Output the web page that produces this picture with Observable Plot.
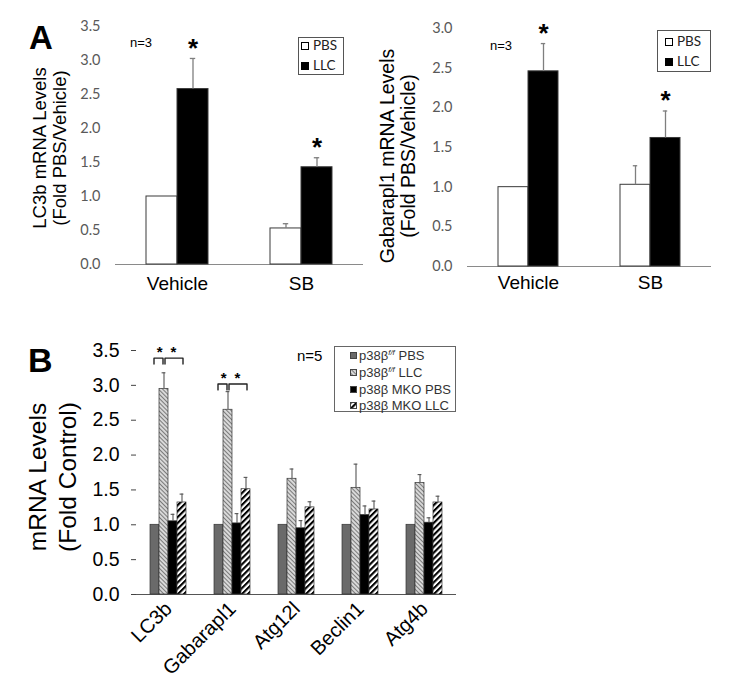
<!DOCTYPE html>
<html><head><meta charset="utf-8">
<script src="https://cdn.jsdelivr.net/npm/d3@7"></script>
<script src="https://cdn.jsdelivr.net/npm/@observablehq/plot@0.6"></script>
<style>
body{margin:0;background:#fff;}
#fig{position:relative;width:745px;height:685px;overflow:hidden;font-family:"Liberation Sans",Arial,sans-serif;color:#000;}
#fig svg{overflow:visible;}
.ytitle{position:absolute;transform:rotate(-90deg);text-align:center;white-space:nowrap;}
.box{position:absolute;box-sizing:border-box;background:#fff;}
.row{position:absolute;white-space:nowrap;line-height:1;}
.row svg{position:absolute;}
</style></head><body><div id="fig"></div>
<script>
// ---------- Panel A data ----------
const groupsA = ["Vehicle", "SB"];
const seriesA = ["PBS", "LLC"];
const yTicksA1 = [0, 0.5, 1.0, 1.5, 2.0, 2.5, 3.0, 3.5];
const yTicksA2 = [0, 0.5, 1.0, 1.5, 2.0, 2.5, 3.0];
// LC3b
const lc3bPBS = [1.00, 0.53];
const lc3bPBSerr = [0, 0.07];
const lc3bLLC = [2.58, 1.43];
const lc3bLLCerr = [0.45, 0.14];
const lc3bSig = [true, true];
// Gabarapl1
const gabPBS = [1.00, 1.03];
const gabPBSerr = [0, 0.24];
const gabLLC = [2.46, 1.62];
const gabLLCerr = [0.35, 0.34];
const gabSig = [true, true];

// ---------- Panel B data ----------
const genes = ["LC3b", "Gabarapl1", "Atg12l", "Beclin1", "Atg4b"];
const seriesB = ["p38βf/f PBS", "p38βf/f LLC", "p38β MKO PBS", "p38β MKO LLC"];
const yTicksB = [0, 0.5, 1.0, 1.5, 2.0, 2.5, 3.0, 3.5];
const ffPBS = [1.00, 1.00, 1.00, 1.00, 1.00];
const ffPBSerr = [0, 0, 0, 0, 0];
const ffLLC = [2.95, 2.65, 1.66, 1.53, 1.60];
const ffLLCerr = [0.23, 0.26, 0.14, 0.34, 0.12];
const mkoPBS = [1.05, 1.02, 0.95, 1.14, 1.03];
const mkoPBSerr = [0.10, 0.14, 0.11, 0.13, 0.07];
const mkoLLC = [1.32, 1.51, 1.25, 1.22, 1.32];
const mkoLLCerr = [0.12, 0.17, 0.08, 0.12, 0.09];
const bracketGenes = ["LC3b", "Gabarapl1"];
const bracketTop = [3.39, 3.02];
const bracketPairs = [[0, 1], [1, 3]];

// ---------- styles ----------
const fillsA = ["#ffffff", "#000000"];
const fillsB = ["#6a6a6a", "url(#hatchLight)", "#000000", "url(#hatchBW)"];

const fig = document.getElementById("fig");
function put(el, left, top) {
  el.style.position = "absolute"; el.style.left = left + "px"; el.style.top = top + "px";
  fig.appendChild(el); return el;
}
function html(s) { const d = document.createElement("div"); d.innerHTML = s; return d.firstElementChild; }

// ---------- Panel A builder ----------
function panelA(cfg) {
  const rows = [];
  groupsA.forEach((g, gi) => {
    rows.push({group: g, series: seriesA[0], value: cfg.pbs[gi], err: cfg.pbsErr[gi], sig: false});
    rows.push({group: g, series: seriesA[1], value: cfg.llc[gi], err: cfg.llcErr[gi], sig: cfg.sig[gi]});
  });
  const withErr = rows.filter(d => d.err > 0);
  return Plot.plot({
    width: cfg.width, height: cfg.height,
    marginLeft: cfg.ml, marginRight: cfg.mr, marginTop: cfg.mt, marginBottom: cfg.mb,
    style: {fontFamily: "Lato, sans-serif", background: "transparent"},
    fx: {domain: groupsA, padding: 0, label: null},
    x: {domain: seriesA, paddingInner: 0, paddingOuter: 1, axis: null},
    y: {domain: [0, cfg.yMax]},
    color: {domain: seriesA, range: fillsA},
    marks: [
      Plot.ruleY([0], {stroke: "#8a8a8a", strokeWidth: 1.2}),
      Plot.barY(rows, {fx: "group", x: "series", y: "value", fill: "series", stroke: "#3a3a3a", strokeWidth: 1}),
      Plot.ruleX(withErr, {fx: "group", x: "series", y1: "value", y2: d => d.value + d.err, stroke: "#7f7f7f", strokeWidth: 1.3}),
      Plot.tickY(withErr, {fx: "group", x: "series", y: d => d.value + d.err, stroke: "#7f7f7f", strokeWidth: 1.3, insetLeft: 12.8, insetRight: 12.8}),
      Plot.text(rows.filter(d => d.sig), {fx: "group", x: "series", y: d => d.value + d.err, text: () => "*", dy: -10, fontSize: 26, fontWeight: "bold", fontFamily: "Liberation Sans", fill: "#000"}),
      Plot.axisY(cfg.ticks, {tickSize: 0, tickPadding: 15, fontSize: 14.5, color: "#595959", stroke: "#8a8a8a", line: true, tickFormat: d3.format(".1f"), label: null}),
      Plot.axisFx({anchor: "bottom", tickSize: 0, tickPadding: cfg.xpad, fontSize: 19, fontFamily: "Liberation Sans", color: "#000", label: null})
    ]
  });
}

const chartA1 = panelA({pbs: lc3bPBS, pbsErr: lc3bPBSerr, llc: lc3bLLC, llcErr: lc3bLLCerr, sig: lc3bSig,
  yMax: 3.5, ticks: yTicksA1, width: 370, height: 300, ml: 115, mr: 7, mt: 26, mb: 36, xpad: 12});
put(chartA1, 0, 0);
const chartA2 = panelA({pbs: gabPBS, pbsErr: gabPBSerr, llc: gabLLC, llcErr: gabLLCerr, sig: gabSig,
  yMax: 3.0, ticks: yTicksA2, width: 375, height: 300, ml: 96, mr: 34, mt: 28, mb: 34, xpad: 9});
put(chartA2, 370, 0);

// ---------- Panel B ----------
const seriesVals = [[ffPBS, ffPBSerr], [ffLLC, ffLLCerr], [mkoPBS, mkoPBSerr], [mkoLLC, mkoLLCerr]];
const rowsB = [];
genes.forEach((g, gi) => seriesB.forEach((s, si) => {
  rowsB.push({gene: g, series: s, value: seriesVals[si][0][gi], err: seriesVals[si][1][gi]});
}));
const errB = rowsB.filter(d => d.err > 0);
const bW = 135, bR = 288, facetW = (745 - bW - bR) / genes.length, poB = 1.46;
const stepB = facetW / (seriesB.length + 2 * poB);
const leg = 0.085;
const bracketPts = [], starPts = [];
bracketGenes.forEach((g, k) => {
  bracketPairs.forEach(([a, b], p) => {
    const id = g + p, t = bracketTop[k];
    bracketPts.push({gene: g, id, side: p, series: seriesB[a], y: t - leg});
    bracketPts.push({gene: g, id, side: p, series: seriesB[a], y: t});
    bracketPts.push({gene: g, id, side: p, series: seriesB[b], y: t});
    bracketPts.push({gene: g, id, side: p, series: seriesB[b], y: t - leg});
    starPts.push({gene: g, series: seriesB[a], y: t, off: (b - a) / 2 * stepB});
  });
});

const chartB = Plot.plot({
  width: 745, height: 355, marginLeft: bW, marginRight: bR, marginTop: 20, marginBottom: 91,
  style: {fontFamily: "Liberation Sans, Arial, sans-serif", background: "transparent"},
  fx: {domain: genes, padding: 0, label: null},
  x: {domain: seriesB, paddingInner: 0, paddingOuter: poB, axis: null},
  y: {domain: [0, 3.5]},
  color: {domain: seriesB, range: fillsB},
  marks: [
    Plot.ruleY([0], {stroke: "#555", strokeWidth: 1.2}),
    Plot.barY(rowsB, {fx: "gene", x: "series", y: "value", fill: "series", stroke: "#333", strokeWidth: 0.7}),
    Plot.ruleX(errB, {fx: "gene", x: "series", y1: "value", y2: d => d.value + d.err, stroke: "#555", strokeWidth: 1.1}),
    Plot.tickY(errB, {fx: "gene", x: "series", y: d => d.value + d.err, stroke: "#555", strokeWidth: 1.1, insetLeft: 2.6, insetRight: 2.6}),
    Plot.line(bracketPts.filter(d => d.side === 0), {fx: "gene", x: "series", y: "y", z: "id", stroke: "#222", strokeWidth: 1.4, dx: -1}),
    Plot.line(bracketPts.filter(d => d.side === 1), {fx: "gene", x: "series", y: "y", z: "id", stroke: "#222", strokeWidth: 1.4, dx: 1}),
    ...starPts.map(s => Plot.text([s], {fx: "gene", x: "series", y: "y", text: () => "*", dx: s.off, dy: -6, fontSize: 15, fontWeight: "bold", fill: "#000"})),
    Plot.axisY(yTicksB, {tickSize: 5, tickPadding: 12, fontSize: 19.5, color: "#000", stroke: "#444", line: true, tickFormat: d3.format(".1f"), label: null}),
    Plot.axisFx({anchor: "bottom", tickRotate: -45, fontSize: 20, tickSize: 0, tickPadding: 11, color: "#000", label: null})
  ]
});
// hatch patterns
const defs = d3.select(chartB).insert("defs", ":first-child");
const p1 = defs.append("pattern").attr("id", "hatchLight").attr("patternUnits", "userSpaceOnUse")
  .attr("width", 3).attr("height", 3).attr("patternTransform", "rotate(-45)");
p1.append("rect").attr("width", 3).attr("height", 3).attr("fill", "#d8d8d8");
p1.append("rect").attr("width", 1).attr("height", 3).attr("fill", "#7a7a7a");
const p2 = defs.append("pattern").attr("id", "hatchBW").attr("patternUnits", "userSpaceOnUse")
  .attr("width", 4.2).attr("height", 4.2).attr("patternTransform", "rotate(45)");
p2.append("rect").attr("width", 4.2).attr("height", 4.2).attr("fill", "#fff");
p2.append("rect").attr("width", 2.1).attr("height", 4.2).attr("fill", "#000");
put(chartB, 0, 330);

// ---------- Text overlays ----------
function ytitle(lines, cx, cy, fs, lh) {
  const w = 320, h = lh * lines.length;
  const d = html(`<div class="ytitle" style="width:${w}px;height:${h}px;font-size:${fs}px;line-height:${lh}px">${lines.join("<br>")}</div>`);
  return put(d, cx - w / 2, cy - h / 2);
}
ytitle(["LC3b mRNA Levels", "(Fold PBS/Vehicle)"], 50, 148, 18.5, 20);
ytitle(["Gabarapl1 mRNA Levels", "(Fold PBS/Vehicle)"], 397.5, 156, 19.5, 21);
ytitle(["mRNA Levels", "(Fold Control)"], 53, 477, 24.5, 30);

function label(text, left, top, fs, extra = "") {
  return put(html(`<div style="font-size:${fs}px;line-height:1;white-space:nowrap;${extra}">${text}</div>`), left, top);
}
label("A", 29, 21, 33, "font-weight:bold");
label("B", 28, 343, 34, "font-weight:bold");
label("n=3", 130, 35.5, 13);
label("n=3", 490, 38.5, 13);
label("n=5", 297, 347.5, 15);

function swatch(fill, size, stroke) {
  return `<svg width="${size}" height="${size}" style="left:0;top:0"><rect x="0.5" y="0.5" width="${size - 1}" height="${size - 1}" fill="${fill}" stroke="${stroke}" stroke-width="1"/></svg>`;
}
function legend(cfg) {
  const box = html(`<div class="box" style="width:${cfg.w}px;height:${cfg.h}px;border:1px solid ${cfg.border}"></div>`);
  cfg.items.forEach((it, i) => {
    const cy = cfg.rowTop + i * cfg.rowGap;
    const r = html(`<div class="row" style="left:0;top:0;width:100%;font-family:${cfg.font};font-size:${cfg.fs}px;color:${cfg.color}"></div>`);
    r.innerHTML = `<div style="position:absolute;left:${cfg.swLeft}px;top:${cy - cfg.sw / 2}px;width:${cfg.sw}px;height:${cfg.sw}px">${swatch(it.fill, cfg.sw, cfg.swStroke)}</div>` +
      `<div style="position:absolute;left:${cfg.textLeft}px;top:${cy - cfg.fs * 0.5}px">${it.label}</div>`;
    box.appendChild(r);
  });
  return put(box, cfg.left, cfg.top);
}
const itemsA = seriesA.map((s, i) => ({label: s, fill: fillsA[i]}));
legend({left: 298, top: 37, w: 46, h: 38, border: "#555", items: itemsA, rowTop: 7.5, rowGap: 20,
  swLeft: 2, sw: 8, swStroke: "#000", textLeft: 14, fs: 13.5, font: "Lato, sans-serif", color: "#222"});
legend({left: 657, top: 30, w: 54, h: 42, border: "#555", items: itemsA, rowTop: 11, rowGap: 20,
  swLeft: 7, sw: 8, swStroke: "#000", textLeft: 19, fs: 13.5, font: "Lato, sans-serif", color: "#222"});
const itemsB = seriesB.map((s, i) => ({label: s.replace("f/f", '<sup style="font-size:8px;vertical-align:5px;font-style:italic">f/f</sup>'), fill: fillsB[i]}));
legend({left: 334, top: 346, w: 122, h: 66, border: "#666", items: itemsB, rowTop: 8.5, rowGap: 16.8,
  swLeft: 15, sw: 7, swStroke: "#444", textLeft: 24, fs: 13, font: "Liberation Sans, Arial, sans-serif", color: "#333"});
</script>
</body></html>
